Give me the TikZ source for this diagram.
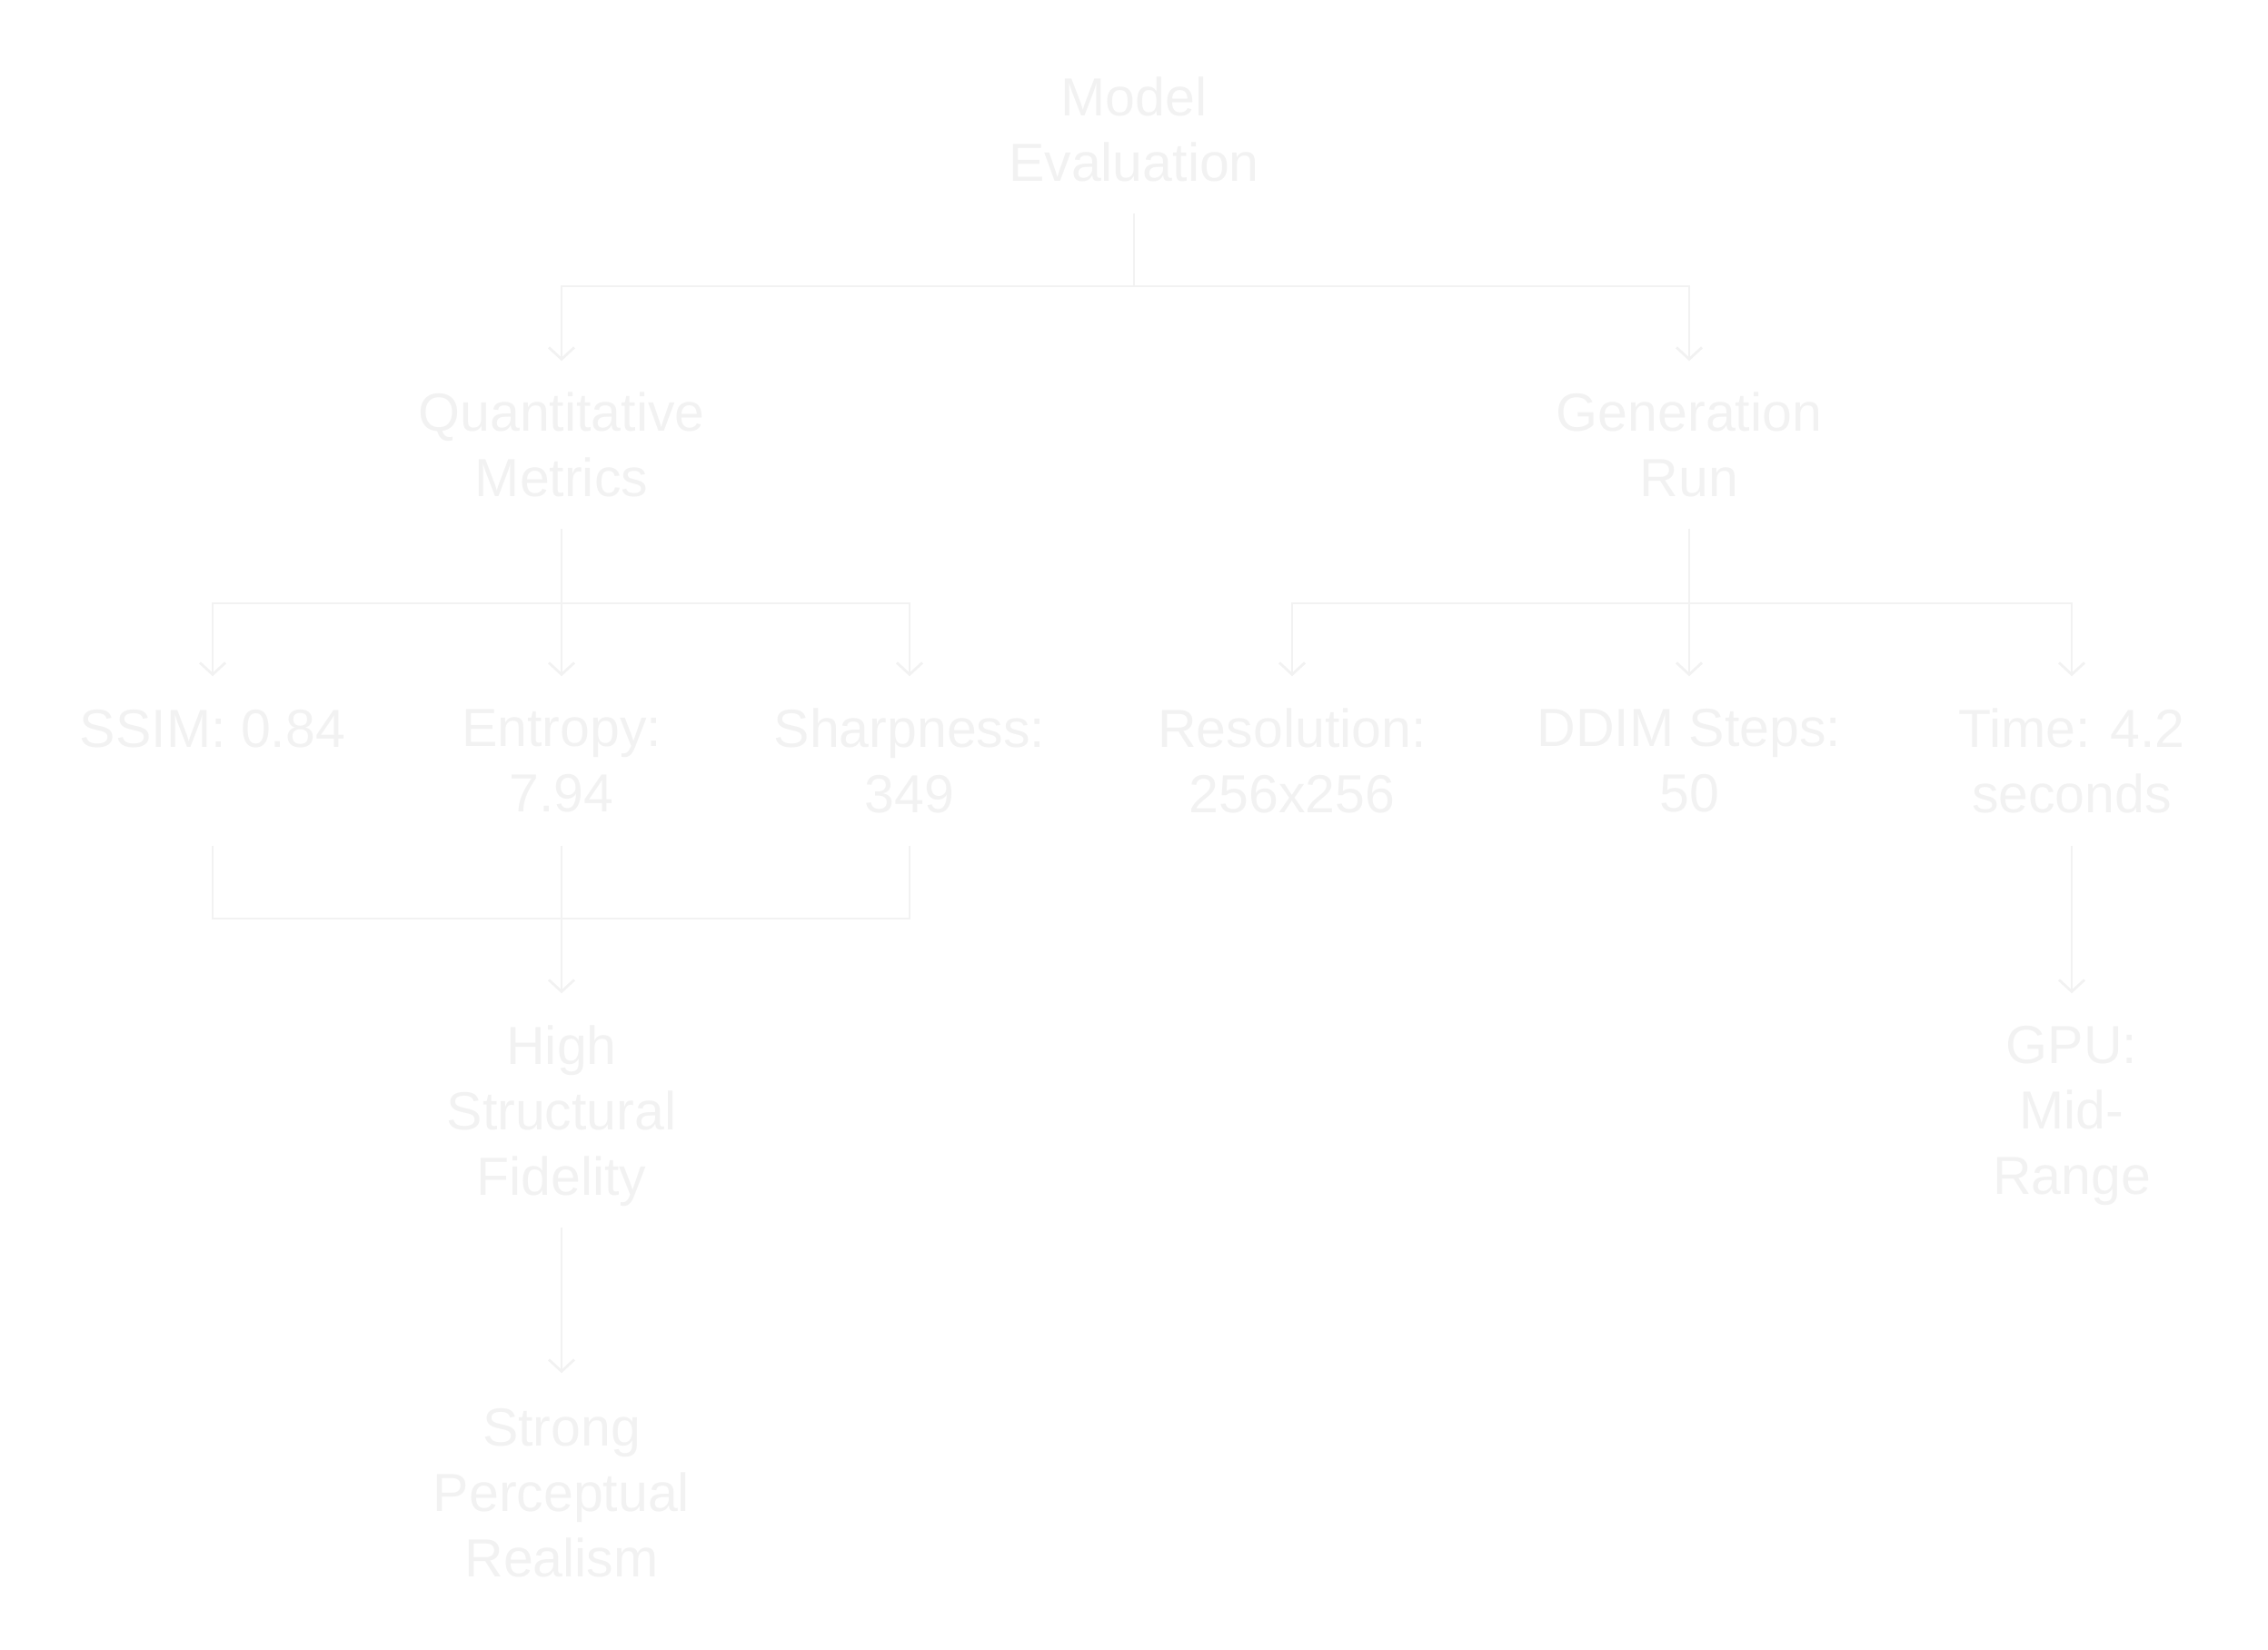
\documentclass[tikz,border=0pt]{standalone}
\usepackage{fontspec}
\setmainfont{Liberation Sans}
\usetikzlibrary{arrows.meta}
\definecolor{faint}{HTML}{F2F2F2}

\begin{document}
\begin{tikzpicture}[>={Straight Barb[length=1.3mm,width=2.8mm]},
  link/.style={draw=faint,line width=0.8pt},
  lbl/.style={text=faint,font=\fontsize{16.8}{20.5}\selectfont,align=center,inner sep=0pt,minimum height=1.83cm},
  tall/.style={lbl,minimum height=2.56cm,text depth=0pt}]
\useasboundingbox (0,0) rectangle (24.96,18.15);
\node[lbl] (root) at (12.48,16.725) {Model\\Evaluation};
\node[lbl] (quant) at (6.18,13.255) {Quantitative\\Metrics};
\node[lbl] (gen) at (18.59,13.255) {Generation\\Run};
\node[lbl,minimum height=1.85cm] (ssim) at (2.34,9.775) {SSIM: 0.84\\\mbox{}};
\node[lbl,minimum height=1.85cm] (entropy) at (6.18,9.775) {Entropy:\\7.94};
\node[lbl,minimum height=1.85cm] (sharp) at (10.01,9.775) {Sharpness:\\349};
\node[lbl,minimum height=1.85cm] (res) at (14.22,9.775) {Resolution:\\256x256};
\node[lbl,minimum height=1.85cm] (ddim) at (18.59,9.775) {DDIM Steps:\\50};
\node[lbl,minimum height=1.85cm] (time) at (22.80,9.775) {Time: 4.2\\seconds};
\node[tall] (fidelity) at (6.18,5.93) {High\\Structural\\Fidelity};
\node[tall] (gpu) at (22.80,5.93) {GPU:\\Mid-\\Range};
\node[tall,minimum height=2.62cm] (realism) at (6.18,1.72) {Strong\\Perceptual\\Realism};
% forks and join points
\coordinate (fork1) at (12.48,15.00);
\coordinate (fork2) at (6.18,11.51);
\coordinate (fork3) at (18.59,11.51);
\coordinate (join) at (6.18,8.04);
\draw[link] (root.south)-- (fork1);
\draw[link,->] (fork1) -| (quant.north);
\draw[link,->] (fork1) -| (gen.north);
\draw[link] (quant.south)-- (fork2);
\draw[link,->] (fork2) -| (ssim.north);
\draw[link,->] (fork2)-- (entropy.north);
\draw[link,->] (fork2) -| (sharp.north);
\draw[link] (gen.south)-- (fork3);
\draw[link,->] (fork3) -| (res.north);
\draw[link,->] (fork3)-- (ddim.north);
\draw[link,->] (fork3) -| (time.north);
\draw[link] (ssim.south) |- (join);
\draw[link] (sharp.south) |- (join);
\draw[link,->] (entropy.south)-- (fidelity.north);
\draw[link,->] (time.south)-- (gpu.north);
\draw[link,->] (fidelity.south)-- (realism.north);
\end{tikzpicture}
\end{document}
